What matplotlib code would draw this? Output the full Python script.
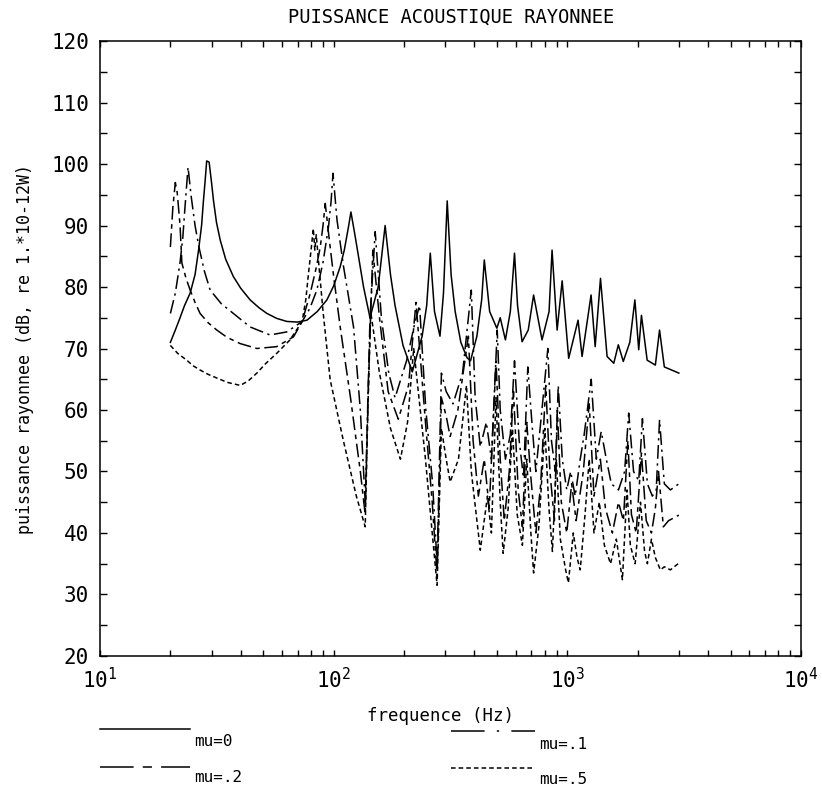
import matplotlib
matplotlib.use('Agg')
import matplotlib.pyplot as plt
from matplotlib.lines import Line2D
from matplotlib.ticker import MultipleLocator, LogLocator, NullFormatter

plt.rcParams['font.family'] = ['DejaVu Sans Mono']
plt.rcParams['mathtext.fontset'] = 'custom'
plt.rcParams['mathtext.rm'] = 'DejaVu Sans Mono'
plt.rcParams['mathtext.it'] = 'DejaVu Sans Mono'

# %%
# data (frequency in Hz, power in dB)

f_mu0 = [20, 21, 22, 23, 24.3, 25.5, 26.4, 27.2, 27.7, 28.2, 28.6, 29.3, 30, 30.6,
         31.5, 32.7, 34.5, 37.2, 40, 43.9, 48, 51.8, 57, 63, 70, 76.8, 85, 93.5,
         100, 106.6, 111, 115.7, 118.5, 123.6, 134.2, 143, 155, 166, 175, 183, 198,
         217, 239, 250, 259, 270, 285, 295, 306, 318, 331, 350, 372, 385, 410, 430,
         441, 465, 499, 516, 543, 570, 594, 612, 640, 680, 717, 779, 835, 860, 904,
         950, 1013, 1111, 1156, 1263, 1315, 1386, 1479, 1580, 1652, 1735, 1850, 1945,
         2020, 2075, 2195, 2380, 2480, 2600, 3000]
db_mu0 = [71, 73, 75, 77, 79, 82, 86, 90, 94, 97.5, 100.5, 100.3, 97, 94,
          90.5, 87.6, 84.5, 81.7, 79.8, 77.9, 76.6, 75.7, 74.9, 74.4, 74.3, 74.6, 76, 77.9,
          80.2, 83.3, 86, 89.8, 92.2, 88.2, 80, 75, 80, 90, 82, 77, 70.5,
          66.2, 72, 77, 85.5, 76, 72, 79, 94, 82, 76, 71, 68.5, 68, 72, 78,
          84.4, 76, 73.3, 75, 71.4, 76, 85.5, 77, 71.1, 73, 78.7, 71.4, 76, 86, 73,
          81, 68.4, 74.6, 68.7, 78.7, 70.3, 81.4, 68.7, 67.6, 70.6, 67.9, 71, 77.9,
          69.8, 75.4, 68.1, 67.3, 73, 67, 66]

f_mu1 = [20, 21, 22, 22.6, 23.1, 23.8, 24.5, 25.5, 26.5, 28, 29.6, 33, 37.2, 43.9,
         53.4, 63, 73.3, 79, 84.7, 90, 95, 97.5, 99.3, 103.3, 110.2, 121.6, 130, 136.4,
         143, 150.5, 160, 172, 183, 205, 222, 233, 248, 265, 277, 289, 303, 324, 356,
         388, 403, 424, 450, 473, 501, 516, 543, 570, 594, 622, 649, 677, 705, 733,
         769, 825, 855, 888, 914, 951, 994, 1033, 1080, 1135, 1180, 1265, 1330, 1396,
         1468, 1542, 1655, 1758, 1830, 1920, 2020, 2095, 2200, 2310, 2400, 2480, 2600,
         2760, 3000]
db_mu1 = [75.7, 79, 84, 88, 93, 99.5, 95, 90, 86.5, 82.5, 79.5, 77.3, 75.7, 73.5,
          72.2, 72.7, 74.4, 76.5, 79.5, 84, 89.8, 94, 98.5, 90.9, 83.3, 73.5, 60, 45,
          75, 89, 75, 66, 62, 68, 74, 77, 60, 48, 35, 66, 63, 61, 66,
          79.5, 62, 54, 58, 52, 73, 60, 52, 56, 68, 55, 49, 67, 58, 50,
          58, 70, 55, 50, 64, 52, 47, 50, 46, 52, 56, 65, 52, 56.5,
          52, 48, 47, 50, 59.5, 50, 48.5, 58.6, 48, 46, 47, 58.4, 48,
          47, 48]

f_mu2 = [20, 20.5, 21, 21.4, 22, 22.4, 23.3, 24.3, 25.5, 26.8, 29, 31.6, 35, 39.8,
         46.9, 57, 67.3, 73.3, 79.4, 84, 87.6, 90, 92, 95, 99.6, 106.6, 118, 130, 136.4,
         141, 147, 157, 171, 189, 209, 225, 247, 264, 277, 289, 303, 315, 340, 377,
         395, 416, 441, 463, 495, 516, 537, 564, 588, 616, 642, 670, 698, 733, 769,
         808, 842, 880, 906, 942, 994, 1043, 1090, 1170, 1240, 1300, 1384, 1455, 1558,
         1655, 1737, 1815, 1880, 1970, 2075, 2175, 2290, 2380, 2455, 2575, 2710, 3000]
db_mu2 = [86.5, 93, 97, 95.3, 90, 83.9, 81.5, 79.5, 77.5, 75.7, 74.2, 73, 71.8, 70.8,
          70, 70.3, 71.9, 74.4, 79, 83, 86.5, 90, 93.6, 88.8, 82.2, 73.5, 62, 50, 43,
          65, 86, 75, 63, 58.5, 64, 77.5, 58, 45, 33, 62, 59, 55.7, 60, 72,
          55, 46, 52, 44, 68, 52, 42, 50, 63, 47, 41, 58, 49, 40, 48,
          64, 50, 42, 60, 45, 40, 48, 42, 50, 61, 46, 52, 44, 40,
          45, 42, 55, 43, 40, 53, 42, 40, 44, 50, 41, 42, 42.9]

f_mu5 = [20, 21.5, 23.5, 25, 26.8, 29, 31.6, 35, 39.8, 43, 46.9, 51, 57, 65, 73.3,
         76, 78, 80, 81.8, 83, 84.2, 86, 90.2, 96.6, 110, 125, 136.4,
         140, 144, 157, 175, 193, 207, 220, 247, 264, 277, 289, 303, 315, 342, 370,
         388, 424, 455, 473, 495, 516, 531, 558, 582, 610, 642, 670, 698, 717, 755,
         801, 834, 863, 897, 933, 983, 1010, 1060, 1100, 1135, 1190, 1240, 1300, 1370,
         1440, 1530, 1620, 1720, 1800, 1860, 1950, 2055, 2140, 2200, 2290, 2380, 2500,
         2600, 2760, 3000]
db_mu5 = [70.5, 69.2, 68.1, 67.2, 66.5, 65.8, 65.2, 64.5, 64, 64.7, 66, 67.5, 69.2, 71.4, 74.4,
          78, 82.2, 86, 89.5, 86, 88.5, 84.4, 75.7, 64.9, 55, 46, 41,
          60, 76, 66, 57, 52, 58, 70, 52, 40, 31.5, 57, 52, 48.3, 52, 64,
          50, 37.2, 46, 40, 62, 45, 36.7, 44, 57, 43, 38, 52, 40, 33.5, 41,
          57, 44, 37, 52, 39, 34, 31.9, 40, 36, 34, 43, 52, 40, 45,
          38, 35, 39, 32.4, 47, 38, 35, 45, 37, 35, 39, 36, 34,
          34.5, 34, 35.1]

labels = ['mu=0', 'mu=.1', 'mu=.2', 'mu=.5']
xtick_vals = [10, 100, 1000, 10000]
xtick_labels = [r'$10^{1}$', r'$10^{2}$', r'$10^{3}$', r'$10^{4}$']

# %%
# plot

styles = ['-', (0, (9, 3, 1.5, 3)), (0, (9, 3, 3, 3)), (0, (3, 2))]
legend_styles = ['-', (0, (22, 8, 1.5, 8, 22, 8)), (0, (22, 6, 6, 6, 22, 6)), (0, (3, 2))]
curves = [(f_mu0, db_mu0), (f_mu1, db_mu1), (f_mu2, db_mu2), (f_mu5, db_mu5)]

fig = plt.figure(figsize=(8.22, 7.89), dpi=100)
ax = fig.add_axes([0.1217, 0.1686, 0.8528, 0.7794])

for (f, db), ls in zip(curves, styles):
    ax.plot(f, db, color='black', linestyle=ls, linewidth=1.1)

ax.set_xscale('log')
ax.set_xlim(10, 10000)
ax.set_ylim(20, 120)
ax.set_xticks(xtick_vals)
ax.set_xticklabels(xtick_labels)
ax.xaxis.set_minor_locator(LogLocator(base=10, subs=range(2, 10), numticks=20))
ax.xaxis.set_minor_formatter(NullFormatter())
ax.yaxis.set_major_locator(MultipleLocator(10))
ax.yaxis.set_minor_locator(MultipleLocator(5))

ax.tick_params(which='both', direction='in', top=True, right=True,
               labelsize=15, width=1, colors='black')
ax.tick_params(axis='x', which='both', length=4.5, pad=8)
ax.tick_params(axis='y', which='both', length=5, pad=8)
for s in ax.spines.values():
    s.set_linewidth(1.1)

fig.text(0.549, 0.978, 'PUISSANCE ACOUSTIQUE RAYONNEE', ha='center', va='center',
         fontsize=13.5)
ax.set_ylabel('puissance rayonnee (dB, re 1.*10-12W)', fontsize=12, labelpad=12)
ax.set_xlabel('frequence (Hz)', fontsize=12.5)
ax.xaxis.set_label_coords(0.485, -0.083)

# legend drawn below the axes, two columns
leg_pos = [(0.1217, 0.231, 0.076, 0.0596),
           (0.549, 0.651, 0.074, 0.057),
           (0.1217, 0.231, 0.0275, 0.0145),
           (0.549, 0.651, 0.027, 0.0125)]
for lab, ls, (x0, x1, yl, yt) in zip(labels, legend_styles, leg_pos):
    fig.add_artist(Line2D([x0, x1], [yl, yl], transform=fig.transFigure,
                          color='black', linestyle=ls, linewidth=1.1))
    fig.text(x1 + 0.005, yt, lab, ha='left', va='center', fontsize=11.5)

fig.savefig('out.png', dpi=100)
